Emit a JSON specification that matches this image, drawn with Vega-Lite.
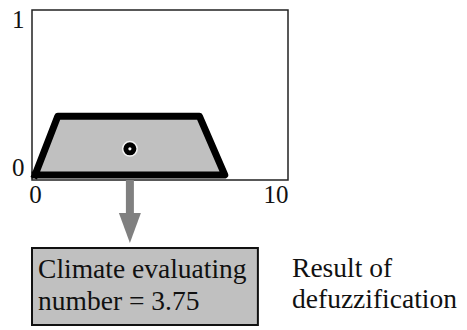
{
  "$schema": "https://vega.github.io/schema/vega-lite/v6.json",
  "width": 256,
  "height": 170,
  "autosize": {"type": "none"},
  "padding": {"left": 32, "top": 10, "right": 179, "bottom": 150},
  "background": "white",
  "config": {
    "view": {"stroke": "#222222", "strokeWidth": 1.5},
    "font": "Liberation Serif"
  },
  "datasets": {
    "membership": [
      {"x": 0, "mu": 0, "step": 1},
      {"x": 0.9, "mu": 0.36, "step": 2},
      {"x": 6.5, "mu": 0.36, "step": 3},
      {"x": 7.5, "mu": 0, "step": 4},
      {"x": 0, "mu": 0, "step": 5}
    ],
    "result": [
      {"value": 3.75, "mu": 0.16}
    ]
  },
  "layer": [
    {
      "data": {"name": "membership"},
      "transform": [{"filter": "datum.step < 5"}],
      "mark": {"type": "area", "color": "#c0c0c0", "opacity": 1},
      "encoding": {
        "x": {
          "field": "x", "type": "quantitative",
          "scale": {"domain": [-0.12, 10], "nice": false, "zero": false},
          "axis": {
            "values": [0, 10], "format": "d", "title": null, "grid": false, "ticks": false, "domain": false,
            "labelFlush": true, "labelFont": "Liberation Serif", "labelFontSize": 25,
            "labelColor": "#111111", "labelPadding": 2
          }
        },
        "y": {
          "field": "mu", "type": "quantitative",
          "scale": {"domain": [-0.031, 1.012], "nice": false, "zero": false},
          "axis": {
            "values": [0, 1], "format": "d", "title": null, "grid": false, "ticks": false, "domain": false,
            "labelFont": "Liberation Serif", "labelFontSize": 25, "labelColor": "#111111",
            "labelPadding": 8, "labelBaseline": "middle",
            "labelOffset": {"condition": {"test": "datum.value === 1", "value": 8}, "value": -7}
          }
        }
      }
    },
    {
      "data": {"name": "membership"},
      "mark": {"type": "line", "color": "black", "strokeWidth": 7, "strokeJoin": "round", "strokeCap": "square"},
      "encoding": {
        "x": {"field": "x", "type": "quantitative"},
        "y": {"field": "mu", "type": "quantitative"},
        "order": {"field": "step", "type": "quantitative"}
      }
    },
    {
      "data": {"name": "result"},
      "mark": {"type": "point", "filled": true, "color": "black", "size": 210, "stroke": "#f4f4f4", "strokeWidth": 1.5, "opacity": 1},
      "encoding": {
        "x": {"field": "value", "type": "quantitative"},
        "y": {"field": "mu", "type": "quantitative"}
      }
    },
    {
      "data": {"name": "result"},
      "mark": {"type": "point", "filled": true, "color": "white", "size": 10, "opacity": 1},
      "encoding": {
        "x": {"field": "value", "type": "quantitative"},
        "y": {"field": "mu", "type": "quantitative"}
      }
    },
    {
      "data": {"name": "result"},
      "mark": {"type": "rule", "color": "#808080", "strokeWidth": 8},
      "encoding": {
        "x": {"field": "value", "type": "quantitative"},
        "y": {"datum": -0.031},
        "y2": {"datum": -0.24}
      }
    },
    {
      "data": {"name": "result"},
      "mark": {"type": "point", "filled": true, "color": "#808080", "opacity": 1, "size": 484, "shape": "M-1,-1.36L1,-1.36L0,1.36Z"},
      "encoding": {
        "x": {"field": "value", "type": "quantitative"},
        "y": {"datum": -0.325}
      }
    },
    {
      "data": {"name": "result"},
      "mark": {"type": "rect", "fill": "#c0c0c0", "stroke": "#111111", "strokeWidth": 2},
      "encoding": {
        "x": {"datum": -0.12},
        "x2": {"datum": 8.81},
        "y": {"datum": -0.448},
        "y2": {"datum": -0.92}
      }
    },
    {
      "data": {"name": "result"},
      "mark": {
        "type": "text", "text": ["Climate evaluating", "number = 3.75"],
        "font": "Liberation Serif", "fontSize": 27.5, "color": "#111111",
        "align": "left", "baseline": "alphabetic", "lineHeight": 32
      },
      "encoding": {
        "x": {"datum": 0.12},
        "y": {"datum": -0.632}
      }
    },
    {
      "data": {"name": "result"},
      "mark": {
        "type": "text", "text": ["Result of", "defuzzification"],
        "font": "Liberation Serif", "fontSize": 27.5, "color": "#111111",
        "align": "left", "baseline": "alphabetic", "lineHeight": 31
      },
      "encoding": {
        "x": {"datum": 10.16},
        "y": {"datum": -0.626}
      }
    }
  ]
}
